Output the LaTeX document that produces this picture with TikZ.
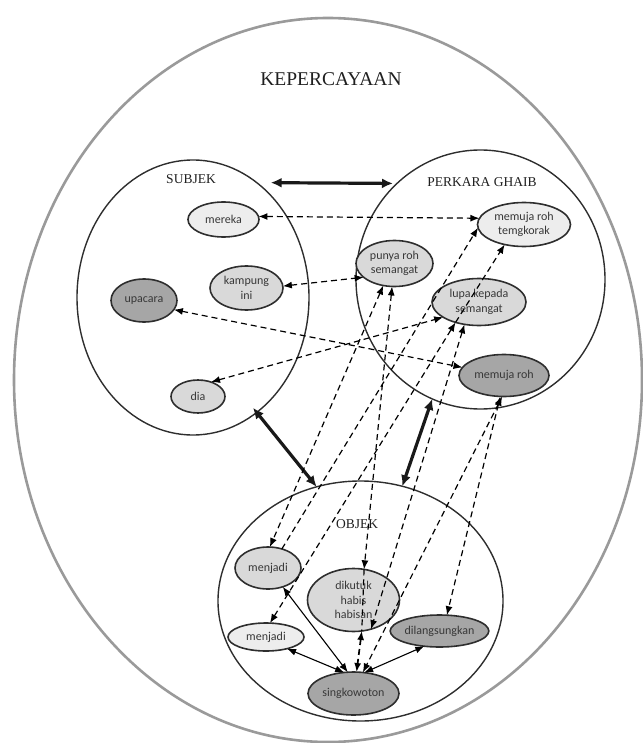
\documentclass[tikz,border=0pt]{standalone}
\usepackage{fontspec}
\setmainfont{Liberation Serif}
\newfontfamily\carl{Carlito}
\usetikzlibrary{shapes.geometric,arrows.meta}
\definecolor{lite}{HTML}{EDEDED}
\definecolor{mid}{HTML}{D9D9D9}
\definecolor{darkf}{HTML}{A6A6A6}
\definecolor{edgec}{HTML}{2E2E2E}
\definecolor{outergray}{HTML}{9A9A9A}
\begin{document}
\begin{tikzpicture}[x=1pt,y=-1pt,
  outerbox/.style={ellipse, draw=outergray, line width=2.6pt, inner sep=0pt, outer sep=0pt},
  container/.style={ellipse, draw=edgec, line width=1.4pt, inner sep=0pt, outer sep=0pt},
  item/.style={ellipse, draw=edgec, line width=1.6pt, inner sep=0pt, outer sep=0pt,
    font=\carl\fontsize{12}{14.5}\selectfont, text=black!78, align=center},
  lite item/.style={item, fill=lite},
  mid item/.style={item, fill=mid},
  dark item/.style={item, fill=darkf},
  lab/.style={font=\fontsize{13.5}{16}\selectfont, text=black!88, inner sep=0pt},
  dl/.style={draw=black, line width=1.2pt, dash pattern=on 6pt off 4pt,
    {Latex[length=9pt,width=7pt]}-{Latex[length=9pt,width=7pt]}},
  dlone/.style={draw=black, line width=1.2pt, dash pattern=on 6pt off 4pt,
    -{Latex[length=9pt,width=7pt]}},
  dlplain/.style={draw=black, line width=1.2pt, dash pattern=on 6pt off 4pt},
  thickarrow/.style={draw=black!90, line width=3.2pt,
    {Latex[length=11pt,width=10pt]}-{Latex[length=11pt,width=10pt]}},
  thinarrow/.style={draw=black, line width=1.1pt,
    {Latex[length=9pt,width=7pt]}-{Latex[length=9pt,width=7pt]}}
]
\useasboundingbox (0,0) rectangle (642,743);

% containers
\node[outerbox, minimum width=628pt, minimum height=724pt] (kep) at (328,380) {};
\node[lab, font=\fontsize{19.5}{22}\selectfont] (kept) at (331,79) {KEPERCAYAAN};

\node[container, minimum width=232pt, minimum height=275pt] (subj) at (193,297.5) {};
\node[lab] (subjt) at (191,179.5) {SUBJEK};

\node[container, minimum width=249pt, minimum height=259pt] (perk) at (480.5,279.5) {};
\node[lab] (perkt) at (482,182.5) {PERKARA GHAIB};

\node[container, minimum width=285pt, minimum height=240pt] (obj) at (360.5,601) {};
\node[lab] (objt) at (357,524) {OBJEK};

% SUBJEK items
\node[lite item, minimum width=71pt, minimum height=35pt] (mer) at (223.5,219.5) {mereka};
\node[mid item, minimum width=73pt, minimum height=44pt] (kamp) at (246.5,288) {kampung\\ini};
\node[dark item, minimum width=66pt, minimum height=43pt] (upa) at (144,300.5) {upacara};
\node[mid item, minimum width=54pt, minimum height=33pt] (dia) at (198,396.5) {dia};

% PERKARA GHAIB items
\node[mid item, minimum width=77pt, minimum height=46pt] (pr) at (394.5,263.5) {punya roh\\semangat};
\node[lite item, minimum width=93pt, minimum height=44pt] (temg) at (524,224.5) {memuja roh\\temgkorak};
\node[mid item, minimum width=94pt, minimum height=47pt] (lupa) at (479,302) {lupa kepada\\semangat};
\node[dark item, minimum width=90pt, minimum height=42pt] (mr) at (504,375.5) {memuja roh};

% OBJEK items
\node[mid item, minimum width=66pt, minimum height=42pt] (mj1) at (268,568) {menjadi};
\node[mid item, minimum width=92pt, minimum height=63pt] (dik) at (353.5,600) {dikutuk\\habis\\habisan};
\node[lite item, minimum width=76pt, minimum height=28pt] (mj2) at (266,637) {menjadi};
\node[dark item, minimum width=96pt, minimum height=32pt] (dil) at (439.5,631) {dilangsungkan};
\node[dark item, minimum width=91pt, minimum height=43pt] (sing) at (353.5,693.5) {singkowoton};

% thick links between containers
\draw[thickarrow, shorten <=14pt, shorten >=4pt] (subj.61) -- (perk.131);
\draw[thickarrow, shorten <=-6pt] (subj.-61) -- (obj.111);
\draw[thickarrow] (perk.-112) -- (obj.70);

% dashed links
\draw[dl] (mer.5) -- (temg.172);
\draw[dl] (kamp.3) -- (pr.204);
\draw[dl] (upa.-17) -- (mr.169);
\draw[dl] (dia.48) -- (lupa.203);
\draw[dl] (pr.-117) -- (mj1.85);
\draw[dlone] (mj1.54) -- (temg.184);
\draw[dl] (pr.-96) -- (dik.71);
\draw[dlplain] (dik.71) -- (dik.-75);
\draw[dl, line width=1.7pt] (dik.-75) -- (sing.82);
\draw[dl] (mj2.74) -- (lupa.221);
\draw[dlone] (lupa.221) -- (temg.226);
\draw[dl] (lupa.237) -- (dik.-59);
\draw[dl] (mr.-100) -- (dil.65);
\draw[dl] (mr.-95) -- (sing.66);

% solid links inside OBJEK
\draw[thinarrow] (mj1.-52) -- (sing.105);
\draw[thinarrow] (mj2.-29) -- (sing.114);
\draw[thinarrow] (dil.225) -- (sing.63);
\end{tikzpicture}
\end{document}
